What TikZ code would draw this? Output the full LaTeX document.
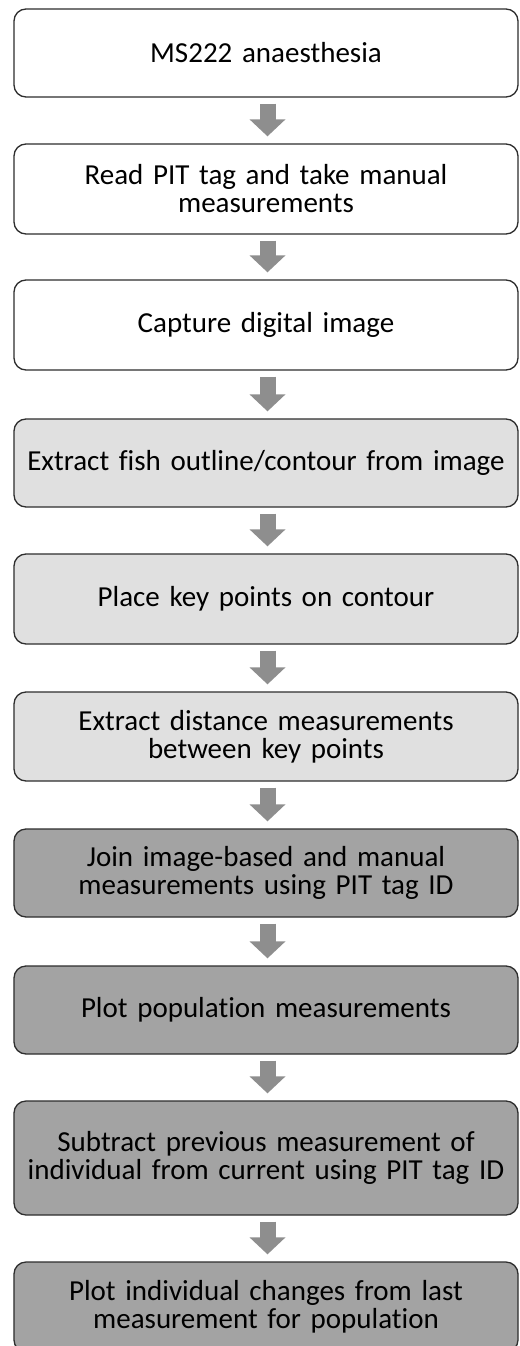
\documentclass[tikz,border=0pt]{standalone}
\usepackage{fontspec}
\setmainfont{Carlito}[Ligatures=NoCommon]
\usetikzlibrary{arrows.meta}
\definecolor{lightfill}{HTML}{E0E0E0}
\definecolor{darkfill}{HTML}{A3A3A3}
\definecolor{arrowgray}{HTML}{8E8E8E}
\definecolor{edgecol}{HTML}{2E2E2E}
\newcommand{\boxfont}{\fontsize{29bp}{28bp}\selectfont\spaceskip=0.12em plus 0.02em minus 0.02em\relax}
\begin{document}
\begin{tikzpicture}[x=1bp,y=1bp,
  box/.style={draw=edgecol, line width=1.3bp, rounded corners=12bp,
    minimum width=504bp, text width=500bp, align=center, inner sep=2bp,
    font=\boxfont},
  whitebox/.style={box, fill=white},
  lightbox/.style={box, fill=lightfill},
  darkbox/.style={box, fill=darkfill},
  flow/.style={arrowgray, line width=16bp,
    -{Triangle[width=35bp,length=17bp]}, shorten <=6bp, shorten >=7bp}]
\useasboundingbox (0,0) rectangle (520,-1346);
\clip (0,0) rectangle (520,-1346);
\fill[white] (0,0) rectangle (520,-1346);
\node[whitebox, minimum height=88bp] (b1) at (266,-53) {MS222 anaesthesia};
\node[whitebox, minimum height=90bp] (b2) at (266,-189) {Read PIT tag and take manual\\measurements};
\node[whitebox, minimum height=90bp] (b3) at (266,-325) {Capture digital image};
\node[lightbox, minimum height=88bp] (b4) at (266,-463) {Extract fish outline/contour from image};
\node[lightbox, minimum height=90bp] (b5) at (266,-599) {Place key points on contour};
\node[lightbox, minimum height=89bp] (b6) at (266,-736.5) {Extract distance measurements\\between key points};
\node[darkbox, minimum height=88bp] (b7) at (266,-873) {Join image-based and manual\\measurements using PIT tag ID};
\node[darkbox, minimum height=88bp] (b8) at (266,-1010) {Plot population measurements};
\node[darkbox, minimum height=114bp] (b9) at (266,-1158) {Subtract previous measurement of\\individual from current using PIT tag ID};
\node[darkbox, minimum height=90bp] (b10) at (266,-1307) {Plot individual changes from last\\measurement for population};
\foreach \a/\b in {b1/b2,b2/b3,b3/b4,b4/b5,b5/b6,b6/b7,b7/b8,b8/b9,b9/b10}
  \draw[flow] ([xshift=1.5bp]\a.south) -- ([xshift=1.5bp]\b.north);
\end{tikzpicture}
\end{document}
